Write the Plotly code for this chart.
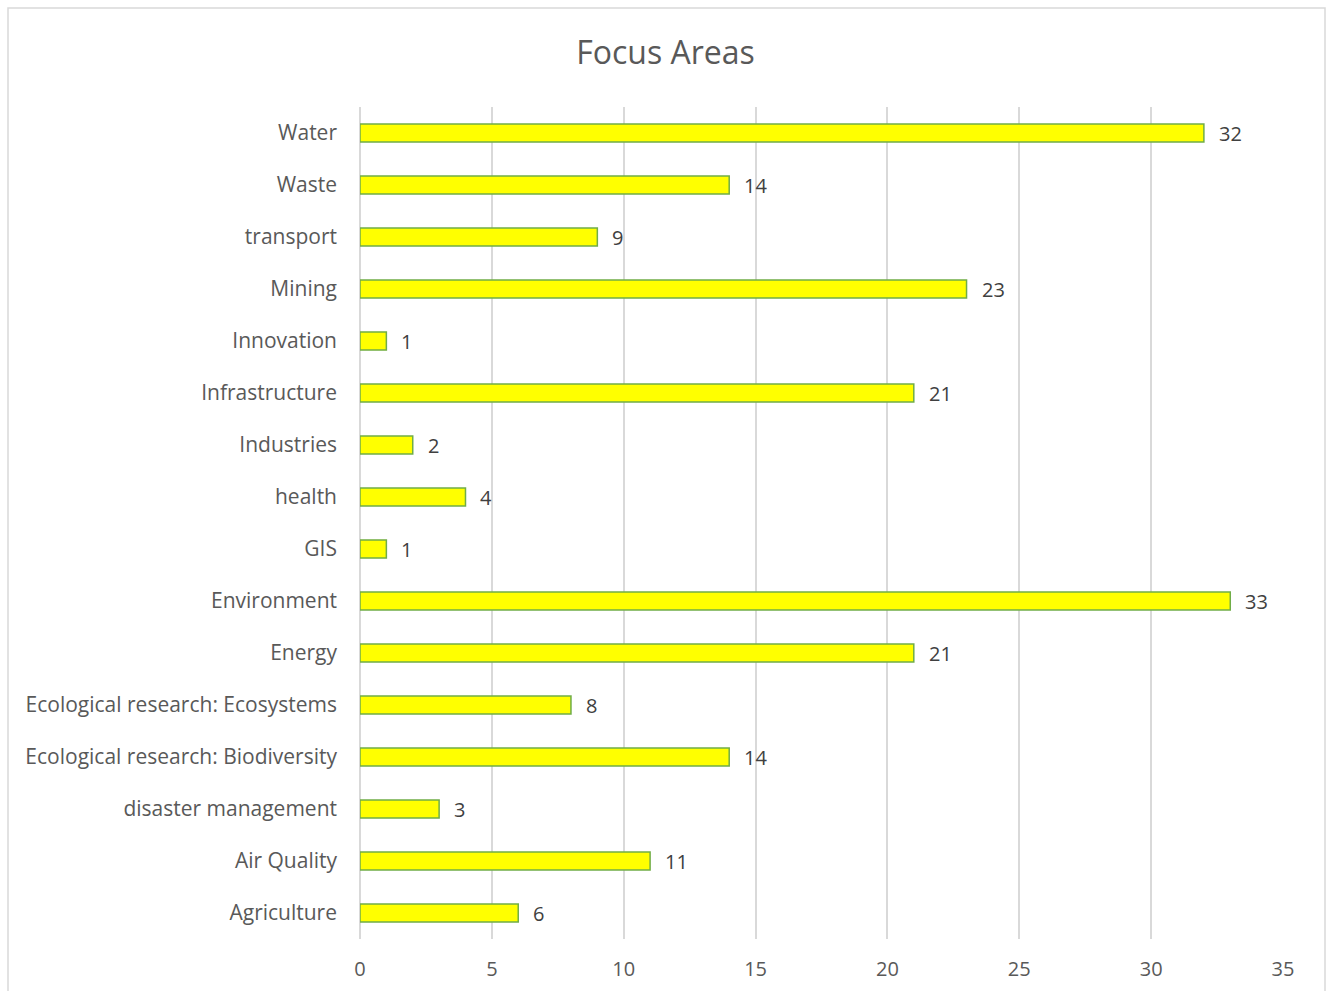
import plotly.graph_objects as go

categories = [
    "Agriculture", "Air Quality", "disaster management",
    "Ecological research: Biodiversity", "Ecological research: Ecosystems",
    "Energy", "Environment", "GIS", "health", "Industries", "Infrastructure",
    "Innovation", "Mining", "transport", "Waste", "Water",
]
counts = [6, 11, 3, 14, 8, 21, 33, 1, 4, 2, 21, 1, 23, 9, 14, 32]
x_ticks = [0, 5, 10, 15, 20, 25, 30, 35]

W, H = 1331, 991
L, R, T, B = 360, 48, 107, 52
pw, ph = W - L - R, H - T - B

font_family = "'Open Sans', Lato, sans-serif"
text_color = "#595959"

fig = go.Figure(
    go.Bar(
        y=categories,
        x=counts,
        orientation="h",
        width=0.35,
        marker=dict(color="#ffff00", line=dict(color="#70ad47", width=1.5)),
    )
)

# value labels to the right of each bar
for cat, val in zip(categories, counts):
    fig.add_annotation(
        x=val, y=cat, text=str(val), showarrow=False,
        xanchor="left", yanchor="middle", xshift=13,
        font=dict(size=20, color="#404040", family=font_family),
    )

# outer chart border
fig.add_shape(
    type="rect", xref="paper", yref="paper",
    x0=(8 - L) / pw, x1=(1325 - L) / pw,
    y0=-(H + 20 - T - ph) / ph, y1=(H - 8 - B) / ph,
    line=dict(color="#d9d9d9", width=1.5), fillcolor="rgba(0,0,0,0)",
    layer="below",
)

fig.update_layout(
    width=W, height=H,
    margin=dict(l=L, r=R, t=T, b=B, pad=0, autoexpand=False),
    paper_bgcolor="white", plot_bgcolor="white",
    title=dict(text="Focus Areas", x=0.5, xref="container", y=1 - 53 / H,
               yanchor="middle",
               font=dict(size=32, color=text_color, family=font_family)),
    showlegend=False,
    xaxis=dict(
        range=[0, 35], tickvals=x_ticks, ticktext=[str(t) for t in x_ticks],
        showgrid=True, gridcolor="#d9d9d9", gridwidth=1.5,
        zeroline=True, zerolinecolor="#d9d9d9", zerolinewidth=1.5,
        showline=False, ticks="", ticklabelstandoff=16, automargin=False,
        tickfont=dict(size=20, color=text_color, family=font_family),
    ),
    yaxis=dict(
        categoryorder="array", categoryarray=categories, automargin=False,
        showgrid=False, showline=False, ticks="", ticklabelstandoff=22,
        tickfont=dict(size=21, color=text_color, family=font_family),
    ),
)

fig.write_html("out.html")
